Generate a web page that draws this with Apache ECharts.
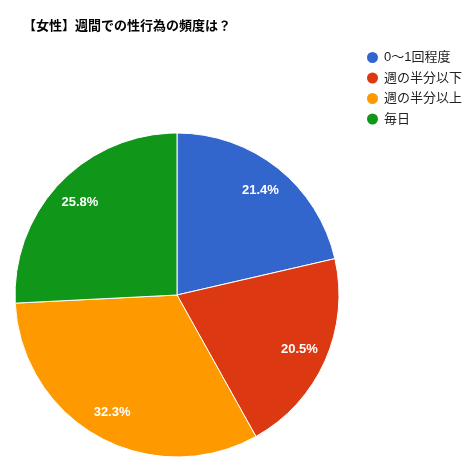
<!DOCTYPE html>
<html>
<head>
<meta charset="utf-8">
<script src="https://cdn.jsdelivr.net/npm/echarts@6/dist/echarts.min.js"></script>
<style>
html,body{margin:0;padding:0;background:#fff;}
#chart{width:473px;height:475px;}
</style>
</head>
<body>
<div id="chart"></div>
<script>
const titleText = '【女性】週間での性行為の頻度は？';
const categories = ['0～1回程度', '週の半分以下', '週の半分以上', '毎日'];
const values = [21.4, 20.5, 32.3, 25.8];
const colors = ['#3366cc', '#dc3912', '#ff9900', '#109618'];

const FONT = "'Liberation Sans', 'Noto Sans CJK JP', sans-serif";
const data = categories.map((name, i) => ({ name: name, value: values[i] }));

const chart = echarts.init(document.getElementById('chart'), null, { renderer: 'canvas' });
chart.setOption({
  backgroundColor: '#ffffff',
  animation: false,
  color: colors,
  title: {
    text: titleText,
    left: 18,
    top: 15,
    textStyle: { fontFamily: FONT, fontSize: 13, fontWeight: 'bold', color: '#000000' }
  },
  legend: {
    orient: 'vertical',
    left: 360,
    top: 45,
    icon: 'circle',
    itemWidth: 13,
    itemHeight: 13,
    itemGap: 5.5,
    data: categories,
    textStyle: { fontFamily: FONT, fontSize: 13, color: '#222222' }
  },
  series: [
    {
      type: 'pie',
      center: [177, 295],
      radius: [0, 162],
      startAngle: 90,
      clockwise: true,
      data: data,
      label: { show: false },
      labelLine: { show: false },
      itemStyle: { borderColor: '#ffffff', borderWidth: 1 },
      emphasis: { disabled: true }
    },
    {
      type: 'pie',
      center: [177, 295],
      radius: [100, 162],
      startAngle: 90,
      clockwise: true,
      silent: true,
      data: data,
      legendHoverLink: false,
      itemStyle: { color: 'rgba(0,0,0,0)', borderWidth: 0 },
      label: {
        show: true,
        position: 'inside',
        formatter: p => p.value.toFixed(1) + '%',
        color: '#ffffff',
        fontFamily: FONT,
        fontSize: 13,
        fontWeight: 'bold'
      },
      labelLine: { show: false },
      emphasis: { disabled: true }
    }
  ]
});
</script>
</body>
</html>
